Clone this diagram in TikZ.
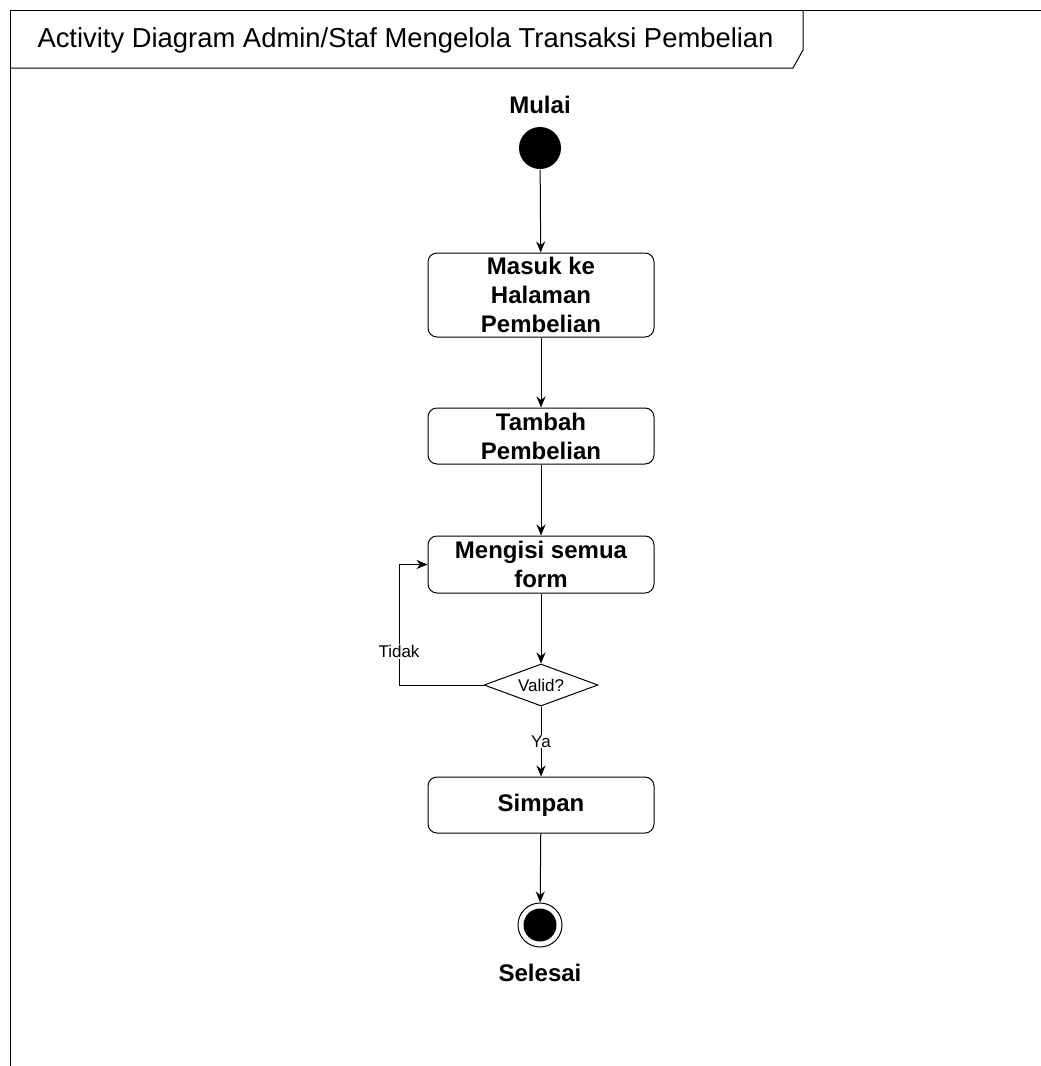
\documentclass[tikz,border=0pt]{standalone}
\usepackage{fontspec}
\setmainfont{Liberation Sans}
\usetikzlibrary{shapes.geometric,arrows.meta}
\begin{document}
\begin{tikzpicture}[x=1pt,y=-1pt,
  line width=1pt,
  act/.style={draw, rounded corners=9pt, minimum width=226pt, align=center, inner sep=0pt,
    font=\bfseries\fontsize{24}{29}\selectfont},
  lbl/.style={font=\fontsize{17}{20}\selectfont, fill=white, inner sep=1pt},
  arr/.style={-{Stealth[length=11pt,width=9pt]}},
  big/.style={font=\bfseries\fontsize{24}{29}\selectfont}]
\useasboundingbox (0,0) rectangle (1041,1066);
% frame
\draw (10,1070) -- (10,10) -- (1045,10);
\draw (10,68) -- (793,68) -- (803,50) -- (803,10);
\node[anchor=west, font=\fontsize{27.4}{30}\selectfont, inner sep=0pt] (title) at (37,40) {Activity Diagram Admin/Staf Mengelola Transaksi Pembelian};
% nodes
\node[big] (mulai) at (540,105) {Mulai};
\node[circle, fill=black, minimum size=42pt, inner sep=0pt] (start) at (540,148) {};
\node[act, minimum height=84pt] (b1) at (541,295) {Masuk ke\\Halaman\\Pembelian};
\node[act, minimum height=56pt] (b2) at (541,436) {Tambah\\Pembelian};
\node[act, minimum height=57pt] (b3) at (541,564.5) {Mengisi semua\\form};
\node[diamond, draw, minimum width=114pt, minimum height=42pt, inner sep=0pt, aspect=2.7,
  font=\fontsize{17}{20}\selectfont] (dec) at (541,685) {Valid?};
\node[act, minimum height=56pt] (b4) at (541,805) {Simpan};
\node[circle, draw, fill=white, minimum size=44pt, inner sep=0pt] (end) at (540,925) {};
\node[circle, fill=black, minimum size=33pt, inner sep=0pt] (endin) at (540,925) {};
\node[big] (selesai) at (540,973) {Selesai};
% connectors
\draw[arr] (start) -- (b1);
\draw[arr] (b1) -- (b2);
\draw[arr] (b2) -- (b3);
\draw[arr] (b3) -- (dec);
\coordinate (lp) at (399,685);
\draw[arr] (dec.west) -- (lp) |- (b3.west) node[lbl, pos=0.14] {Tidak};
\draw[arr] (dec) -- (b4) node[lbl, midway] {Ya};
\draw[arr] (b4) -- (end);
\end{tikzpicture}
\end{document}
